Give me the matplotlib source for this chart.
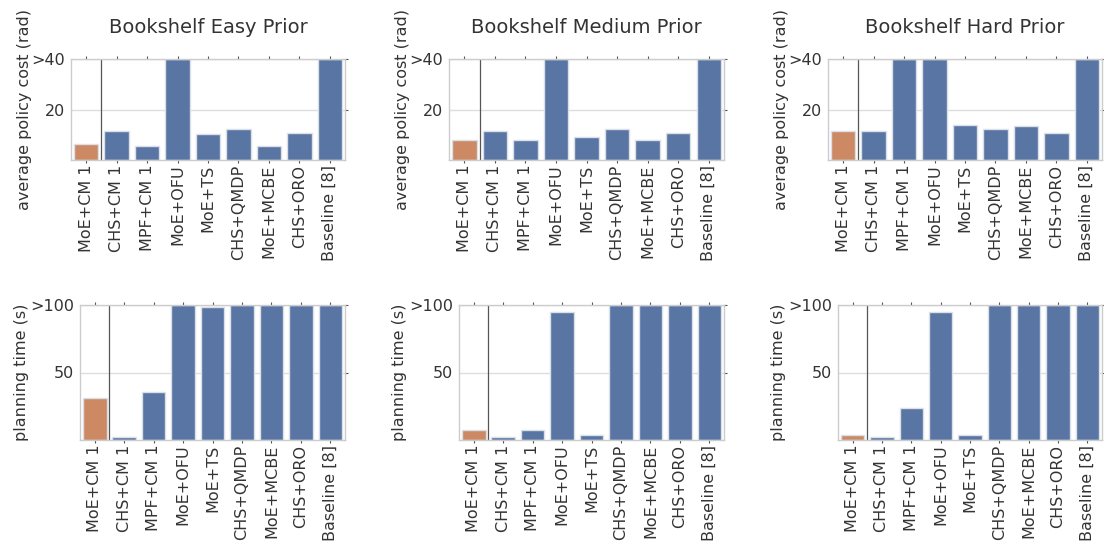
import numpy as np
import matplotlib
matplotlib.use("Agg")
import matplotlib.pyplot as plt

methods = ["MoE+CM 1", "CHS+CM 1", "MPF+CM 1", "MoE+OFU", "MoE+TS",
           "CHS+QMDP", "MoE+MCBE", "CHS+ORO", "Baseline [8]"]
priors = ["Easy", "Medium", "Hard"]

# average policy cost (rad), values past the cap are clipped to 40
cost_easy = [6.5, 11.5, 5.6, 40, 10.4, 12.3, 5.6, 10.6, 40]
cost_medium = [8.0, 11.5, 8.0, 40, 9.0, 12.3, 8.0, 10.6, 40]
cost_hard = [11.5, 11.5, 40, 40, 13.9, 12.3, 13.5, 10.6, 40]

# planning time (s), capped at 100
time_easy = [30.8, 2.5, 35.3, 100, 98.2, 100, 100, 100, 100]
time_medium = [7.2, 2.5, 7.2, 94.8, 3.5, 100, 100, 100, 100]
time_hard = [3.5, 2.5, 23.4, 94.5, 4.0, 100, 100, 100, 100]

cost_ticks = [20, 40]
cost_ticklabels = ["20", ">40"]
time_ticks = [50, 100]
time_ticklabels = ["50", ">100"]

blue = "#5975a4"
orange = "#cc8963"
text_c = "#333333"

plt.rcParams["font.family"] = "DejaVu Sans"
fig = plt.figure(figsize=(11.04, 5.42), dpi=100)
W, H = 1104, 542


def px_axes(l, t, r, b):
    return fig.add_axes([l / W, 1 - b / H, (r - l) / W, (b - t) / H])


def draw(ax, vals, ymax, ticks, ticklabels, ylabel, label_x, title=None):
    x = np.arange(len(methods))
    colors = [orange] + [blue] * (len(methods) - 1)
    ax.set_axisbelow(True)
    ax.yaxis.grid(True, color="#dedede", linewidth=1)
    ax.bar(x, vals, width=0.8, color=colors, edgecolor="#dbe0e8", linewidth=1)
    ax.axvline(0.5, color="#555555", linewidth=0.9)
    ax.set_xlim(-0.5, len(methods) - 0.5)
    ax.set_ylim(0, ymax)
    ax.set_yticks(ticks)
    ax.set_yticklabels(ticklabels, fontsize=11.5, color=text_c)
    ax.set_xticks(x)
    ax.set_xticklabels(methods, rotation=90, fontsize=11.5, color=text_c)
    ax.tick_params(axis="x", top=True, bottom=True, direction="out",
                   length=2, color="#555555", pad=1.5)
    ax.tick_params(axis="y", left=False, right=True, direction="out",
                   length=2, color="#555555", pad=2.3)
    for s in ax.spines.values():
        s.set_color("#cccccc")
        s.set_linewidth(1)
    ax.set_ylabel(ylabel, fontsize=11.5, color=text_c)
    # put the y label at a fixed pixel column
    l = ax.get_position().x0 * W
    w = ax.get_position().width * W
    ax.yaxis.set_label_coords((label_x - l) / w, 0.5)
    if title:
        ax.set_title(title, fontsize=14, color=text_c, pad=19)


cost_sets = [cost_easy, cost_medium, cost_hard]
time_sets = [time_easy, time_medium, time_hard]
top_lefts = [71, 449, 828]
bot_lefts = [80, 459, 838]
rights = [345, 724, 1102]
offsets = [0, 378, 757]

for i, p in enumerate(priors):
    ax = px_axes(top_lefts[i], 59, rights[i], 160)
    draw(ax, cost_sets[i], 40, cost_ticks, cost_ticklabels,
         "average policy cost (rad)", 32 + offsets[i], "Bookshelf %s Prior" % p)
    ax = px_axes(bot_lefts[i], 305, rights[i], 440)
    draw(ax, time_sets[i], 100, time_ticks, time_ticklabels,
         "planning time (s)", 29 + offsets[i])

fig.savefig("out.png", dpi=100)
